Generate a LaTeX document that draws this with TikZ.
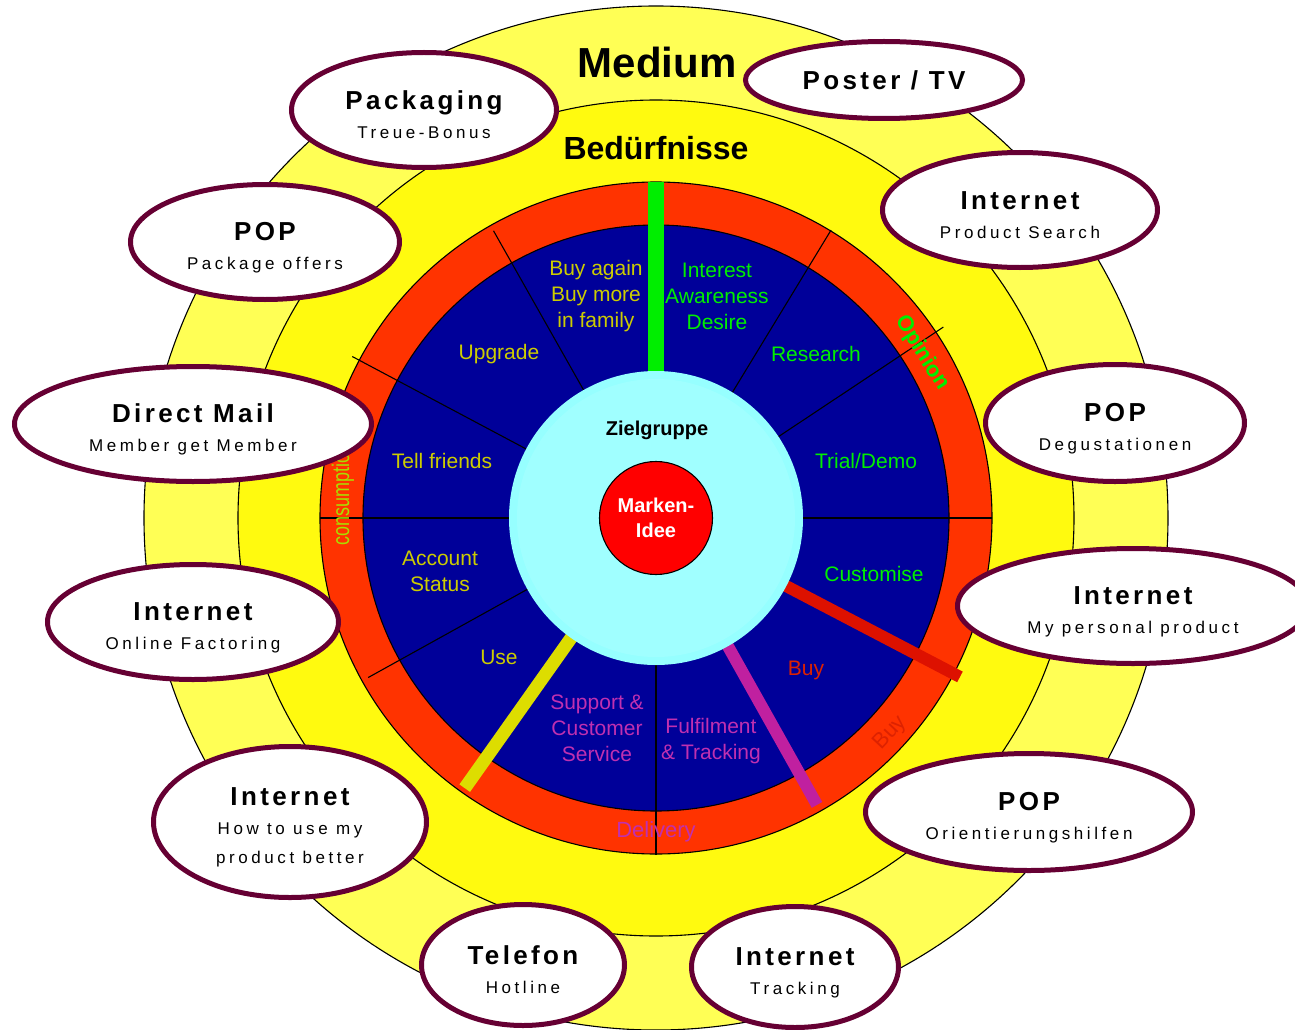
\documentclass[tikz,border=0pt]{standalone}
\usepackage{fontspec}
\setmainfont{Liberation Sans}
\newfontfamily\spacedtitle[LetterSpace=13]{Liberation Sans}
\newfontfamily\spacedsub[LetterSpace=21]{Liberation Sans}
\usetikzlibrary{shapes.geometric}

\definecolor{mediumyellow}{RGB}{255,255,85}
\definecolor{needyellow}{RGB}{255,250,15}
\definecolor{ringred}{RGB}{255,51,0}
\definecolor{navy}{RGB}{0,0,153}
\definecolor{groupcyan}{RGB}{150,255,255}
\definecolor{groupcyanin}{RGB}{160,255,255}
\definecolor{ideared}{RGB}{255,0,0}
\definecolor{txtgreen}{RGB}{0,238,0}
\definecolor{txtyellow}{RGB}{204,204,0}
\definecolor{txtmagenta}{RGB}{192,48,176}
\definecolor{txtred}{RGB}{221,34,0}
\definecolor{txtlime}{RGB}{170,221,0}
\definecolor{bargreen}{RGB}{0,238,0}
\definecolor{barred}{RGB}{221,17,0}
\definecolor{barmagenta}{RGB}{192,32,160}
\definecolor{baryellow}{RGB}{221,221,0}
\definecolor{bubbleline}{RGB}{102,0,51}

\newcommand{\bubblehead}[1]{{\spacedtitle\bfseries\fontsize{26}{30}\selectfont #1}}
\newcommand{\bubbletitle}[1]{\rule{0pt}{29pt}\bubblehead{#1}}
\newcommand{\bubblesub}[1]{{\spacedsub\fontsize{17}{29}\selectfont #1}}

\tikzstyle{bubble}=[ellipse, draw=bubbleline, line width=5pt, fill=white, inner sep=0pt, align=center,
  font=\fontsize{17}{29}\selectfont]
\tikzstyle{seg}=[font=\fontsize{21}{26}\selectfont, align=center, inner sep=0pt]
\tikzstyle{ringtxt}=[font=\fontsize{22}{26}\selectfont, inner sep=0pt]

\begin{document}
\begin{tikzpicture}[x=1pt,y=1pt,line width=1.1pt]
  \useasboundingbox (-656,-511) rectangle (639,518);

  % rings
  \fill[mediumyellow] (0,0) circle (512pt);
  \draw (0,0) circle (512pt);
  \fill[needyellow] (0,0) circle (418pt);
  \draw (0,0) circle (418pt);
  \fill[ringred] (0,0) circle (336pt);
  \draw (0,0) circle (336pt);
  \fill[navy] (0,0) circle (293pt);
  \draw (0,0) circle (293pt);

  % dividers and phase bars
  \foreach \a/\r in {119.5/330,58.7/337,33.6/345,0/336,180/336,152/344,209/329,270/337}
    \draw (\a:145) -- (\a:\r);
  \foreach \a/\r/\c/\w in {90/336/bargreen/16,-27.6/343/barred/12,-60.7/329/barmagenta/12,234.7/331/baryellow/13}
    \draw[\c, line width=\w pt] (\a:145) -- (\a:\r);

  \fill[groupcyan] (0,0) circle (147pt);
  \fill[groupcyanin] (0,0) circle (139pt);
  \node[circle, draw, fill=ideared, minimum size=113pt, inner sep=0pt, align=center, text=white,
        font=\bfseries\fontsize{20}{25}\selectfont] (idee) at (0,0) {Marken-\\Idee};
  \node[font=\bfseries\fontsize{20}{24}\selectfont] (group) at (1,88) {Zielgruppe};

  \node[font=\bfseries\fontsize{42}{48}\selectfont] (medium) at (1,456) {Medium};
  \node[font=\bfseries\fontsize{32}{38}\selectfont] (needs) at (0,370) {Bedürfnisse};

  % segments
  \node[seg, text=txtyellow] (again) at (-60,222) {Buy again\\Buy more\\in family};
  \node[seg, text=txtgreen] (interest) at (61,222) {Interest\\Awareness\\Desire};
  \node[seg, text=txtyellow] (upgrade) at (-157,164) {Upgrade};
  \node[seg, text=txtgreen] (research) at (160,164) {Research};
  \node[seg, text=txtyellow] (tell) at (-214,57) {Tell friends};
  \node[seg, text=txtgreen] (trial) at (210,57) {Trial/Demo};
  \node[seg, text=txtyellow] (account) at (-216,-53) {Account\\Status};
  \node[seg, text=txtgreen] (custom) at (218,-56) {Customise};
  \node[seg, text=txtyellow] (use) at (-157,-139) {Use};
  \node[seg, text=txtred] (buy) at (150,-152) {Buy};
  \node[seg, text=txtmagenta] (support) at (-59,-210) {Support \&\\Customer\\Service};
  \node[seg, text=txtmagenta] (fulfil) at (55,-223) {Fulfilment\\\& Tracking};

  % ring labels
  \node[ringtxt, text=txtgreen, font=\bfseries\fontsize{22}{26}\selectfont, rotate=-58] (opinion) at (31.8:313) {Opinion};
  \node[ringtxt, text=txtred, rotate=47] (buyring) at (-42.6:318) {Buy};
  \node[ringtxt, text=txtmagenta] (delivery) at (0,-314) {Delivery};
  \node[ringtxt, text=txtlime, font=\fontsize{24}{28}\selectfont, rotate=90] (consumption) at (-313,24) {\scalebox{0.75}[1]{consumption}};

  % media
  \node[bubble, minimum width=265pt, minimum height=115pt] (pack) at (-232,408)
    {\bubbletitle{Packaging}\\\bubblesub{Treue-Bonus}};
  \node[bubble, minimum width=277pt, minimum height=77pt] (poster) at (228,438)
    {\bubblehead{Poster / TV}};
  \node[bubble, minimum width=275pt, minimum height=115pt] (search) at (364,308)
    {\bubbletitle{Internet}\\\bubblesub{Product Search}};
  \node[bubble, minimum width=269pt, minimum height=115pt] (offers) at (-391,276)
    {\bubbletitle{POP}\\\bubblesub{Package offers}};
  \node[bubble, minimum width=259pt, minimum height=117pt] (degu) at (459,95)
    {\bubbletitle{POP}\\\bubblesub{Degustationen}};
  \node[bubble, minimum width=357pt, minimum height=115pt] (mail) at (-463,94)
    {\bubbletitle{Direct Mail}\\\bubblesub{Member get Member}};
  \node[bubble, minimum width=351pt, minimum height=115pt] (personal) at (477,-88)
    {\bubbletitle{Internet}\\\bubblesub{My personal product}};
  \node[bubble, minimum width=291pt, minimum height=115pt] (factoring) at (-463,-104)
    {\bubbletitle{Internet}\\\bubblesub{Online Factoring}};
  \node[bubble, minimum width=273pt, minimum height=151pt] (howto) at (-366,-304)
    {\bubbletitle{Internet}\\\bubblesub{How to use my}\\\bubblesub{product better}};
  \node[bubble, minimum width=327pt, minimum height=117pt] (orient) at (373,-294)
    {\bubbletitle{POP}\\\bubblesub{Orientierungshilfen}};
  \node[bubble, minimum width=203pt, minimum height=121pt] (phone) at (-133,-447)
    {\bubbletitle{Telefon}\\\bubblesub{Hotline}};
  \node[bubble, minimum width=207pt, minimum height=121pt] (tracking) at (139,-449)
    {\bubbletitle{Internet}\\\bubblesub{Tracking}};
\end{tikzpicture}
\end{document}
